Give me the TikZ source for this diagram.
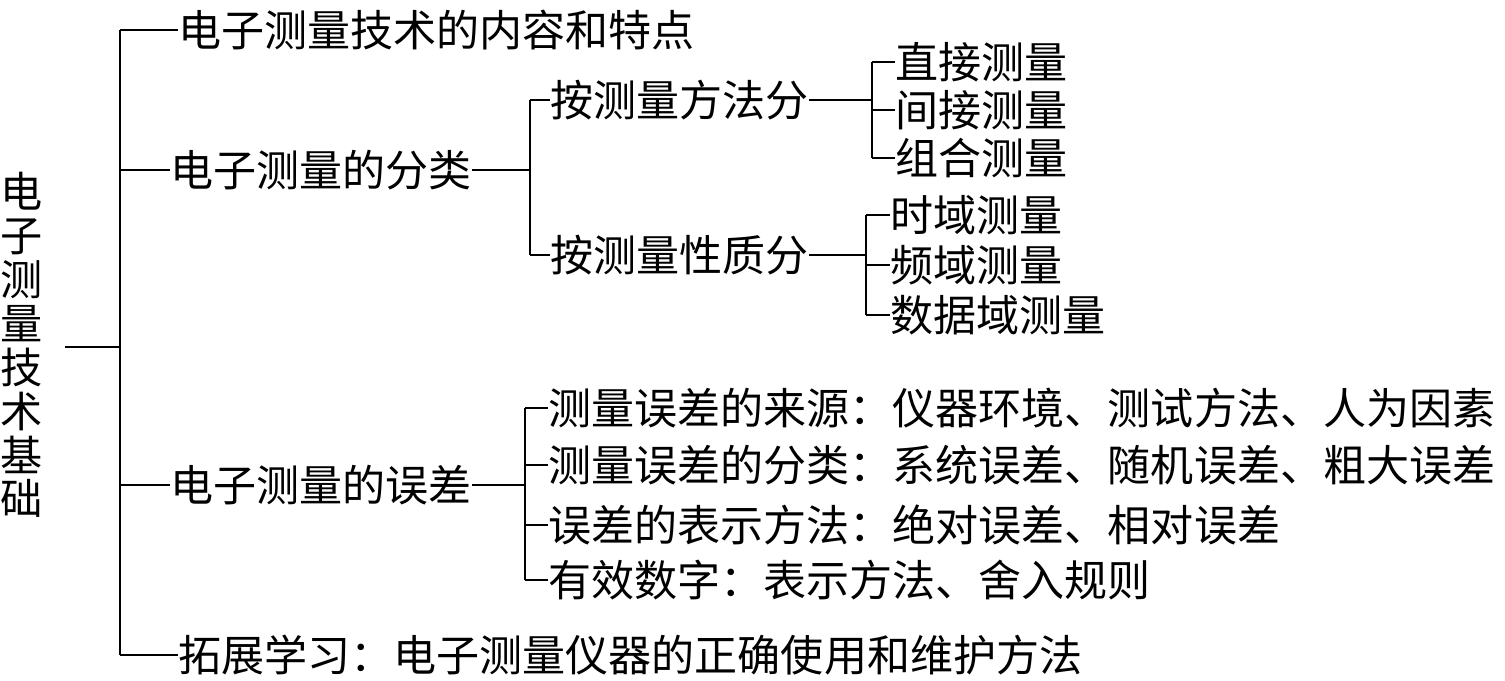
\documentclass[tikz,border=0pt]{standalone}
\usepackage{fontspec}
\newfontfamily\cjk{Noto Sans CJK SC}
\begin{document}
\begin{tikzpicture}[x=0.02cm,y=-0.02cm,
  t/.style={anchor=west,inner sep=0pt,font=\cjk\fontsize{24.5pt}{27pt}\selectfont},
  ln/.style={line width=1.2pt}]
\useasboundingbox (0,0) rectangle (1505,680);
\node[inner sep=0pt,align=center,font=\cjk\fontsize{24pt}{25pt}\selectfont] (root) at (22,345) {电\\子\\测\\量\\技\\术\\基\\础};
\coordinate (r0) at (65,347);
\coordinate (tr) at (120,347);
\draw[ln] (r0) -- (tr);
\node[t] (a1) at (178,30) {电子测量技术的内容和特点};
\node[t] (a2) at (170,170) {电子测量的分类};
\node[t] (a3) at (170,485) {电子测量的误差};
\node[t] (a4) at (178,655) {拓展学习：电子测量仪器的正确使用和维护方法};
\draw[ln] (tr |- a1.west) -- (tr |- a4.west);
\foreach \n in {a1,a2,a3,a4} \draw[ln] (tr |- \n.west) -- (\n.west);
% classification
\node[t] (b1) at (550,100) {按测量方法分};
\node[t] (b2) at (550,255) {按测量性质分};
\coordinate (jb) at (530,0);
\draw[ln] (a2.east) -- (jb |- a2.east);
\draw[ln] (jb |- b1.west) -- (jb |- b2.west);
\foreach \n in {b1,b2} \draw[ln] (jb |- \n.west) -- (\n.west);
\node[t] (c1) at (895,62) {直接测量};
\node[t] (c2) at (895,110) {间接测量};
\node[t] (c3) at (895,158) {组合测量};
\coordinate (jc) at (872,0);
\draw[ln] (b1.east) -- (jc |- b1.east);
\draw[ln] (jc |- c1.west) -- (jc |- c3.west);
\foreach \n in {c1,c2,c3} \draw[ln] (jc |- \n.west) -- (\n.west);
\node[t] (d1) at (890,215) {时域测量};
\node[t] (d2) at (890,265) {频域测量};
\node[t] (d3) at (890,315) {数据域测量};
\coordinate (jd) at (866,0);
\draw[ln] (b2.east) -- (jd |- b2.east);
\draw[ln] (jd |- d1.west) -- (jd |- d3.west);
\foreach \n in {d1,d2,d3} \draw[ln] (jd |- \n.west) -- (\n.west);
% errors
\node[t] (e1) at (548,408) {测量误差的来源：仪器环境、测试方法、人为因素};
\node[t] (e2) at (548,465) {测量误差的分类：系统误差、随机误差、粗大误差};
\node[t] (e3) at (548,525) {误差的表示方法：绝对误差、相对误差};
\node[t] (e4) at (548,580) {有效数字：表示方法、舍入规则};
\coordinate (je) at (525,0);
\draw[ln] (a3.east) -- (je |- a3.east);
\draw[ln] (je |- e1.west) -- (je |- e4.west);
\foreach \n in {e1,e2,e3,e4} \draw[ln] (je |- \n.west) -- (\n.west);
\end{tikzpicture}
\end{document}
